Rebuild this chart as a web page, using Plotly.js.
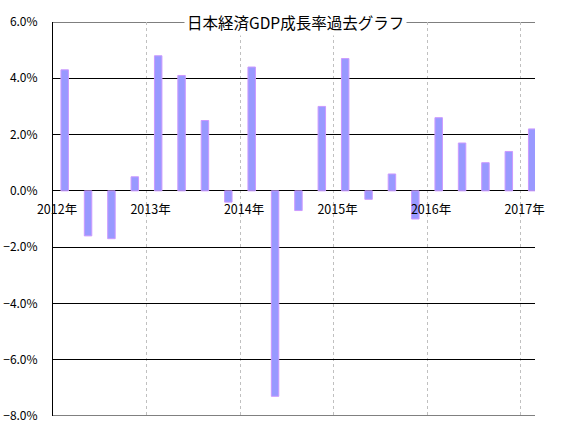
<!DOCTYPE html>
<html>
<head>
<meta charset="utf-8">
<script src="https://cdn.plot.ly/plotly-3.0.1.min.js"></script>
<style>html,body{margin:0;padding:0;background:#fff;}#chart{width:566px;height:433px;}</style>
</head>
<body>
<div id="chart"></div>
<script>
// Quarterly real GDP growth (annualised, %)
const quarters = ["2012Q1","2012Q2","2012Q3","2012Q4",
                  "2013Q1","2013Q2","2013Q3","2013Q4",
                  "2014Q1","2014Q2","2014Q3","2014Q4",
                  "2015Q1","2015Q2","2015Q3","2015Q4",
                  "2016Q1","2016Q2","2016Q3","2016Q4",
                  "2017Q1"];
const growth = [4.3, -1.6, -1.7, 0.5,
                4.8, 4.1, 2.5, -0.4,
                4.4, -7.3, -0.7, 3.0,
                4.7, -0.3, 0.6, -1.0,
                2.6, 1.7, 1.0, 1.4,
                2.2];
const yearTicks = [2012, 2013, 2014, 2015, 2016, 2017];
const yearLabels = ["2012年", "2013年", "2014年", "2015年", "2016年", "2017年"];
const titleText = "日本経済GDP成長率過去グラフ";

// place each quarter at the middle of its quarter-year slot
const xPos = quarters.map(q => {
  const y = parseInt(q.slice(0, 4), 10);
  const n = parseInt(q.slice(5), 10);
  return y + (n - 0.5) / 4;
});

const font = "'Noto Sans CJK JP', 'Liberation Sans', sans-serif";
const yMin = -8, yMax = 6;
const xRange = [2012, 2017.155];

const trace = {
  type: "bar",
  x: xPos,
  y: growth,
  width: 0.08,
  marker: {color: "#9999FF", line: {color: "#CC99FF", width: 1}},
  hoverinfo: "skip"
};

// the 6% and -8% gridlines at the frame edges
const edgeLines = [yMax, yMin].map(v => ({
  type: "line", xref: "paper", yref: "y",
  x0: 0, x1: 1, y0: v, y1: v,
  line: {color: "#000", width: 1},
  layer: "below"
}));

const layout = {
  width: 566, height: 433,
  margin: {l: 53, r: 31, t: 22, b: 17},
  paper_bgcolor: "#fff", plot_bgcolor: "#fff",
  showlegend: false,
  font: {family: font, size: 12, color: "#000"},
  xaxis: {
    range: xRange,
    tickvals: yearTicks,
    ticktext: yearLabels,
    showgrid: true,
    gridcolor: "#c0c0c0",
    griddash: "3px,3px",
    gridwidth: 1,
    zeroline: false,
    showline: false,
    ticks: "",
    anchor: "free",
    position: (0 - yMin) / (yMax - yMin),
    ticklabelstandoff: 10,
    ticklabelshift: 4,
    tickfont: {family: font, size: 12.5, color: "#000"},
    fixedrange: true
  },
  yaxis: {
    range: [yMin, yMax],
    dtick: 2,
    tick0: 0,
    tickformat: ".1f",
    ticksuffix: "%",
    showgrid: true,
    gridcolor: "#000",
    gridwidth: 1,
    zeroline: true,
    zerolinecolor: "#000",
    zerolinewidth: 1,
    showline: true,
    linecolor: "#000",
    linewidth: 1,
    ticks: "",
    ticklabelstandoff: 12,
    tickfont: {family: font, size: 12, color: "#000"},
    fixedrange: true
  },
  shapes: edgeLines,
  annotations: [{
    text: titleText,
    xref: "paper", yref: "paper",
    x: (295 - 53) / (566 - 53 - 31), y: 1,
    xanchor: "center", yanchor: "middle",
    showarrow: false,
    bgcolor: "#fff",
    borderpad: 2,
    font: {family: font, size: 15.5, color: "#000"}
  }]
};

Plotly.newPlot("chart", [trace], layout, {displayModeBar: false, staticPlot: true});
</script>
</body>
</html>
